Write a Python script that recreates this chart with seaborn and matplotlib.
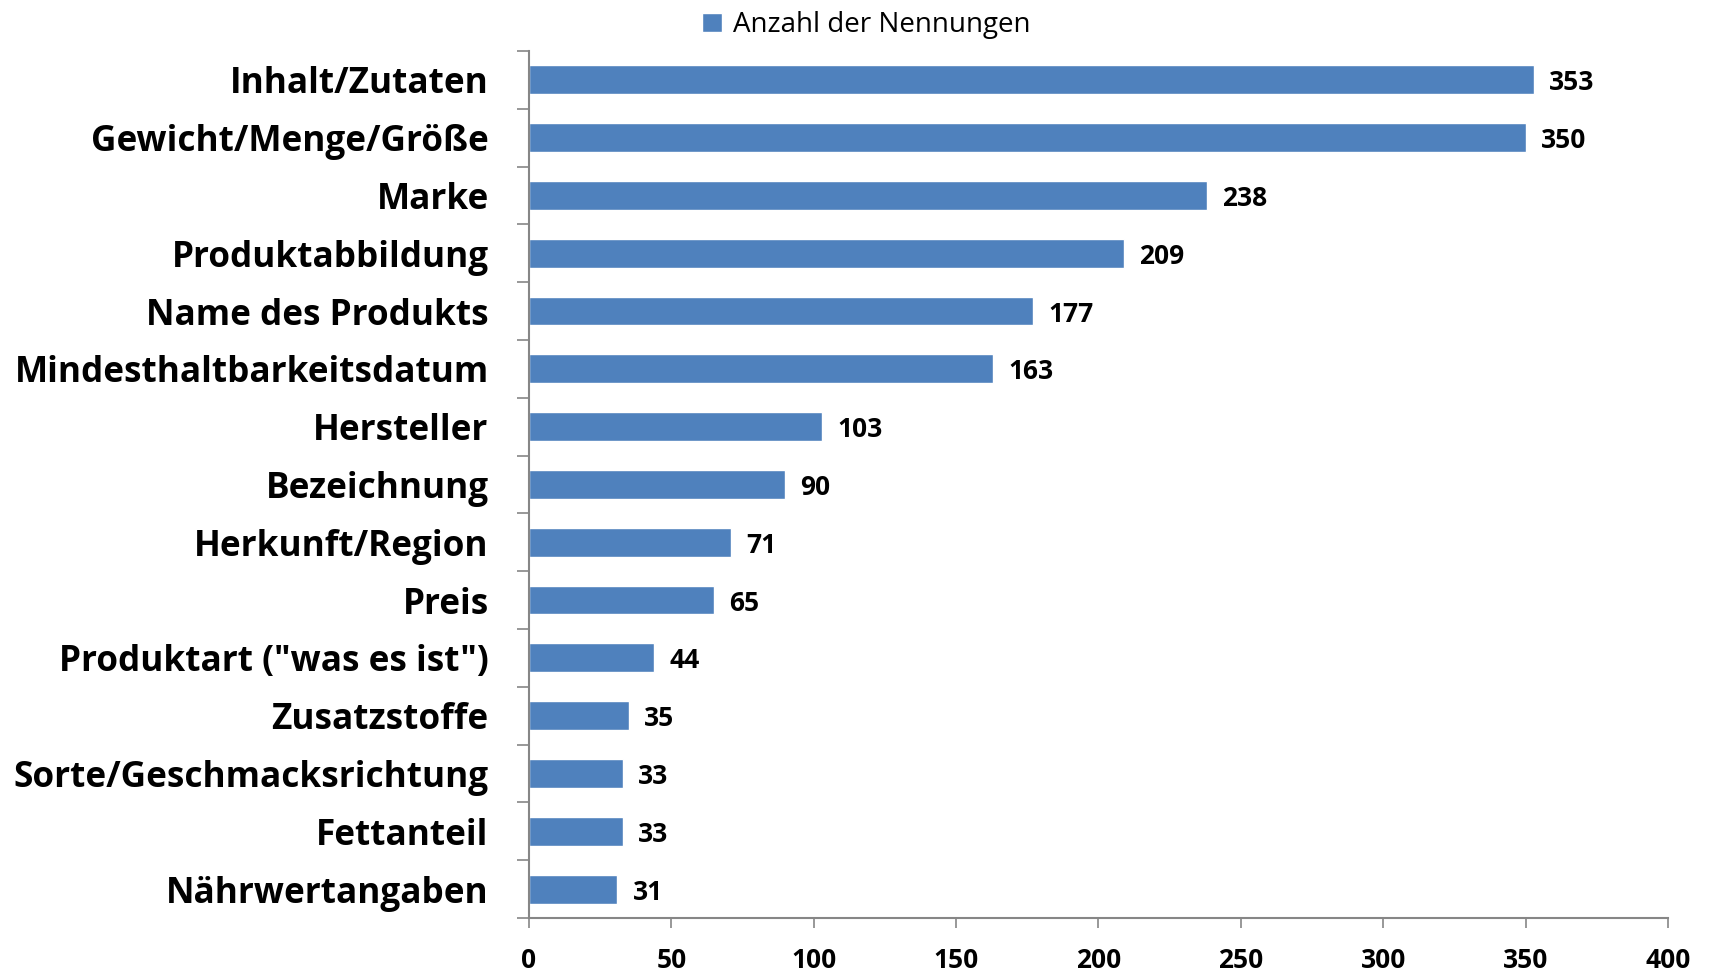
import matplotlib
matplotlib.use("Agg")
import matplotlib.pyplot as plt
import seaborn as sns
import pandas as pd
import numpy as np

categories = ["Inhalt/Zutaten", "Gewicht/Menge/Größe", "Marke", "Produktabbildung",
              "Name des Produkts", "Mindesthaltbarkeitsdatum", "Hersteller", "Bezeichnung",
              "Herkunft/Region", "Preis", "Produktart (\"was es ist\")", "Zusatzstoffe",
              "Sorte/Geschmacksrichtung", "Fettanteil", "Nährwertangaben"]
values = [353, 350, 238, 209, 177, 163, 103, 90, 71, 65, 44, 35, 33, 33, 31]
series_name = "Anzahl der Nennungen"
x_ticks = [0, 50, 100, 150, 200, 250, 300, 350, 400]

sns.set_theme(style="white")
plt.rcParams['font.family'] = ['Open Sans', 'DejaVu Sans']
plt.rcParams['text.color'] = 'black'
plt.rcParams['xtick.color'] = 'black'
plt.rcParams['ytick.color'] = 'black'

df = pd.DataFrame({"cat": categories, "val": values})

fig = plt.figure(figsize=(17.09, 9.72), dpi=100)
ax = fig.add_axes([0.3095, 0.0556, 0.6665, 0.892])

sns.barplot(data=df, x="val", y="cat", color="#4F81BD", saturation=1,
            width=0.5, ax=ax, label=series_name, orient="h")

ax.set_xlim(0, 400)
ax.set_ylim(len(categories) - 0.5, -0.5)
ax.set_xticks(x_ticks)
ax.set_xticklabels([str(t) for t in x_ticks], fontsize=19, fontweight="bold")
ax.set_xlabel("")
ax.set_ylabel("")

for lab in ax.get_yticklabels():
    lab.set_fontsize(25.3)
    lab.set_fontweight("bold")

ax.tick_params(axis="y", which="major", length=0, pad=29)
ax.set_yticks(np.arange(-0.5, len(categories), 1), minor=True)
ax.tick_params(axis="y", which="minor", length=9, color="#868686", width=1.2, left=True)
ax.tick_params(axis="x", which="major", length=7, color="#868686", width=1.2, bottom=True, pad=14)

for s in ["top", "right"]:
    ax.spines[s].set_visible(False)
for s in ["left", "bottom"]:
    ax.spines[s].set_color("#868686")
    ax.spines[s].set_linewidth(1.5)

anns = ax.bar_label(ax.containers[0], labels=[str(v) for v in values], padding=11,
                    fontsize=19, fontweight="bold")
for a in anns:
    a.set_va("center_baseline")

handles, labels = ax.get_legend_handles_labels()
if ax.get_legend() is not None:
    ax.get_legend().remove()
fig.legend(handles, labels, loc="upper center", bbox_to_anchor=(0.507, 1.014), frameon=False,
           fontsize=20, handlelength=0.7, handleheight=0.7, handletextpad=0.4)

fig.savefig("out.png", dpi=100)
